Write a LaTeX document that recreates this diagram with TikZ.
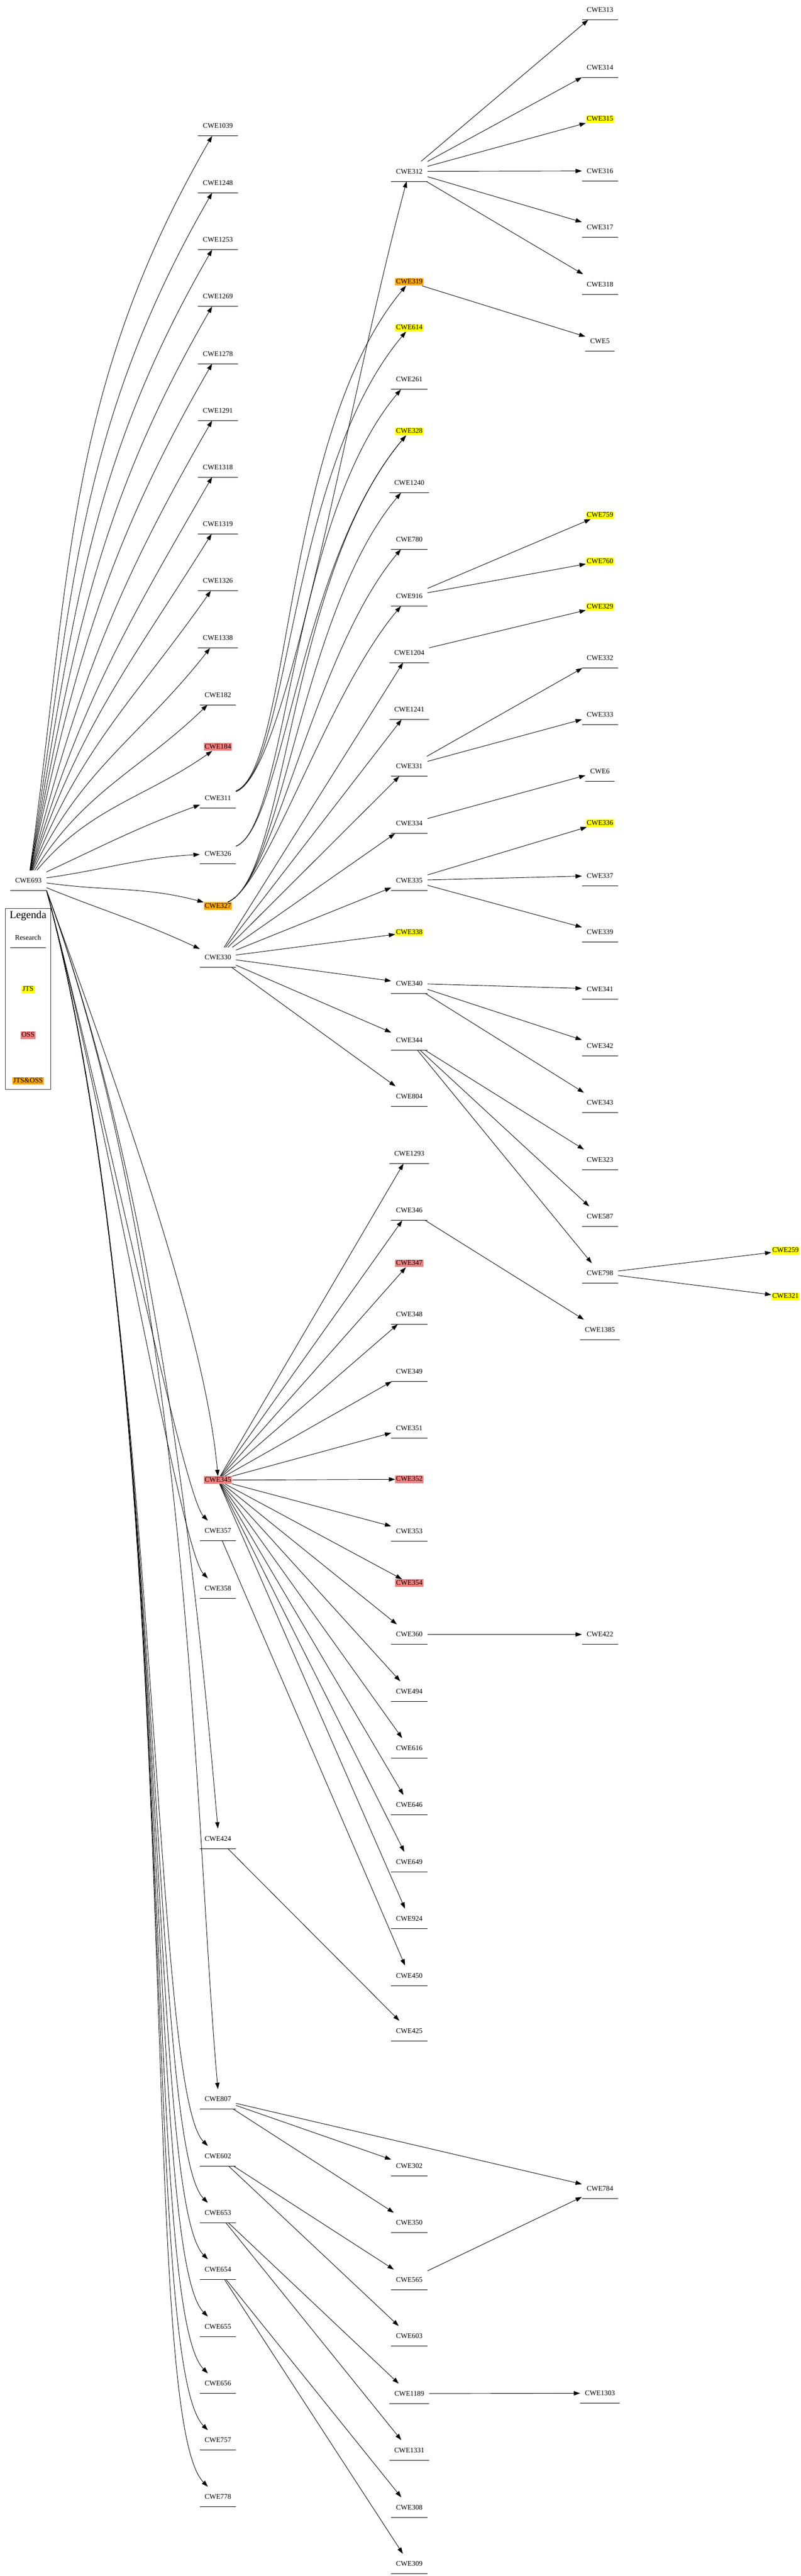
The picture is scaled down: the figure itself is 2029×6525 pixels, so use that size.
\documentclass[tikz,border=0pt]{standalone}
\usepackage{fontspec}
\setmainfont{Liberation Serif}
\usetikzlibrary{arrows.meta}

\definecolor{jtscol}{RGB}{255,255,0}
\definecolor{osscol}{RGB}{240,128,128}
\definecolor{bothcol}{RGB}{255,165,0}

\newcommand{\cwefont}{\fontsize{9}{10}\selectfont}

\tikzset{
  cwe/.style={font=\cwefont, inner xsep=6pt, inner ysep=0pt, minimum height=25pt,
    append after command={(\tikzlastnode.south west) edge[draw=black, line width=0.6pt] (\tikzlastnode.south east)}},
  hlbox/.style={font=\cwefont, inner xsep=1pt, inner ysep=0.6pt, text height=6.4pt, text depth=2pt}
}

\begin{document}
\begin{tikzpicture}[x=0.5pt, y=0.5pt]
\useasboundingbox (0,0) rectangle (2029,-6525);

% legend box
\draw[line width=0.7pt, black!80] (14,-2301) rectangle (129,-2759);
\node[font=\fontsize{13.5}{15}\selectfont] (legtitle) at (71,-2320) {Legenda};

\begin{scope}[every node/.style={cwe}]
    \node (research) at (71,-2375) {Research};
    \node (cwe693) at (72,-2230) {CWE693};
    % second column
    \node (cwe1039) at (552,-319) {CWE1039};
    \node (cwe1248) at (552,-463) {CWE1248};
    \node (cwe1253) at (552,-607) {CWE1253};
    \node (cwe1269) at (552,-751) {CWE1269};
    \node (cwe1278) at (552,-896) {CWE1278};
    \node (cwe1291) at (552,-1040) {CWE1291};
    \node (cwe1318) at (552,-1183) {CWE1318};
    \node (cwe1319) at (552,-1327) {CWE1319};
    \node (cwe1326) at (552,-1471) {CWE1326};
    \node (cwe1338) at (552,-1616) {CWE1338};
    \node (cwe182) at (552,-1760) {CWE182};
    \node (cwe311) at (552,-2022) {CWE311};
    \node (cwe326) at (552,-2162) {CWE326};
    \node (cwe330) at (552,-2425) {CWE330};
    \node (cwe357) at (552,-3877) {CWE357};
    \node (cwe358) at (552,-4023) {CWE358};
    \node (cwe424) at (552,-4657) {CWE424};
    \node (cwe807) at (552,-5317) {CWE807};
    \node (cwe602) at (552,-5461) {CWE602};
    \node (cwe653) at (552,-5605) {CWE653};
    \node (cwe654) at (552,-5748) {CWE654};
    \node (cwe655) at (552,-5893) {CWE655};
    \node (cwe656) at (552,-6037) {CWE656};
    \node (cwe757) at (552,-6181) {CWE757};
    \node (cwe778) at (552,-6324) {CWE778};
    % third column
    \node (cwe312) at (1037,-434) {CWE312};
    \node (cwe261) at (1037,-961) {CWE261};
    \node (cwe1240) at (1037,-1223) {CWE1240};
    \node (cwe780) at (1037,-1366) {CWE780};
    \node (cwe916) at (1037,-1510) {CWE916};
    \node (cwe1204) at (1037,-1653) {CWE1204};
    \node (cwe1241) at (1037,-1797) {CWE1241};
    \node (cwe331) at (1037,-1941) {CWE331};
    \node (cwe334) at (1037,-2086) {CWE334};
    \node (cwe335) at (1037,-2230) {CWE335};
    \node (cwe340) at (1037,-2491) {CWE340};
    \node (cwe344) at (1037,-2635) {CWE344};
    \node (cwe804) at (1037,-2777) {CWE804};
    \node (cwe1293) at (1037,-2922) {CWE1293};
    \node (cwe346) at (1037,-3066) {CWE346};
    \node (cwe348) at (1037,-3329) {CWE348};
    \node (cwe349) at (1037,-3474) {CWE349};
    \node (cwe351) at (1037,-3617) {CWE351};
    \node (cwe353) at (1037,-3878) {CWE353};
    \node (cwe360) at (1037,-4140) {CWE360};
    \node (cwe494) at (1037,-4284) {CWE494};
    \node (cwe616) at (1037,-4428) {CWE616};
    \node (cwe646) at (1037,-4572) {CWE646};
    \node (cwe649) at (1037,-4716) {CWE649};
    \node (cwe924) at (1037,-4860) {CWE924};
    \node (cwe450) at (1037,-5004) {CWE450};
    \node (cwe425) at (1037,-5144) {CWE425};
    \node (cwe302) at (1037,-5486) {CWE302};
    \node (cwe350) at (1037,-5630) {CWE350};
    \node (cwe565) at (1037,-5774) {CWE565};
    \node (cwe603) at (1037,-5917) {CWE603};
    \node (cwe1189) at (1037,-6063) {CWE1189};
    \node (cwe1331) at (1037,-6206) {CWE1331};
    \node (cwe308) at (1037,-6351) {CWE308};
    \node (cwe309) at (1037,-6494) {CWE309};
    % fourth column
    \node (cwe313) at (1520,-25) {CWE313};
    \node (cwe314) at (1520,-171) {CWE314};
    \node (cwe316) at (1520,-433) {CWE316};
    \node (cwe317) at (1520,-576) {CWE317};
    \node (cwe318) at (1520,-720) {CWE318};
    \node (cwe5) at (1520,-864) {CWE5};
    \node (cwe332) at (1520,-1667) {CWE332};
    \node (cwe333) at (1520,-1810) {CWE333};
    \node (cwe6) at (1520,-1954) {CWE6};
    \node (cwe337) at (1520,-2218) {CWE337};
    \node (cwe339) at (1520,-2361) {CWE339};
    \node (cwe341) at (1520,-2505) {CWE341};
    \node (cwe342) at (1520,-2649) {CWE342};
    \node (cwe343) at (1520,-2793) {CWE343};
    \node (cwe323) at (1520,-2937) {CWE323};
    \node (cwe587) at (1520,-3081) {CWE587};
    \node (cwe798) at (1520,-3225) {CWE798};
    \node (cwe1385) at (1520,-3368) {CWE1385};
    \node (cwe422) at (1520,-4140) {CWE422};
    \node (cwe784) at (1520,-5543) {CWE784};
    \node (cwe1303) at (1520,-6062) {CWE1303};
\end{scope}

\begin{scope}[every node/.style={hlbox}]
    \node[fill=jtscol] (legjts) at (71,-2506) {JTS};
    \node[fill=osscol] (legoss) at (71,-2622) {OSS};
    \node[fill=bothcol] (legboth) at (71,-2738) {JTS\&OSS};
    \node[fill=osscol] (cwe184) at (552,-1892) {CWE184};
    \node[fill=bothcol] (cwe327) at (552,-2295) {CWE327};
    \node[fill=osscol] (cwe345) at (552,-3749) {CWE345};
    \node[fill=bothcol] (cwe319) at (1037,-714) {CWE319};
    \node[fill=jtscol] (cwe614) at (1037,-830) {CWE614};
    \node[fill=jtscol] (cwe328) at (1037,-1093) {CWE328};
    \node[fill=jtscol] (cwe338) at (1037,-2362) {CWE338};
    \node[fill=osscol] (cwe347) at (1037,-3200) {CWE347};
    \node[fill=osscol] (cwe352) at (1037,-3747) {CWE352};
    \node[fill=osscol] (cwe354) at (1037,-4010) {CWE354};
    \node[fill=jtscol] (cwe315) at (1520,-302) {CWE315};
    \node[fill=jtscol] (cwe759) at (1520,-1305) {CWE759};
    \node[fill=jtscol] (cwe760) at (1520,-1422) {CWE760};
    \node[fill=jtscol] (cwe329) at (1520,-1537) {CWE329};
    \node[fill=jtscol] (cwe336) at (1520,-2085) {CWE336};
    \node[fill=jtscol] (cwe259) at (1990,-3168) {CWE259};
    \node[fill=jtscol] (cwe321) at (1990,-3284) {CWE321};
\end{scope}

\begin{scope}[>={Triangle[length=8pt,width=5.5pt]}, line width=0.6pt,
              every edge/.style={draw=black}]
    \path [->] (cwe693) edge[out=82, in=240] (cwe1039);
    \path [->] (cwe693) edge[out=81, in=240] (cwe1248);
    \path [->] (cwe693) edge[out=80, in=240] (cwe1253);
    \path [->] (cwe693) edge[out=79, in=240] (cwe1269);
    \path [->] (cwe693) edge[out=78, in=240] (cwe1278);
    \path [->] (cwe693) edge[out=76, in=240] (cwe1291);
    \path [->] (cwe693) edge[out=74, in=240] (cwe1318);
    \path [->] (cwe693) edge[out=72, in=238] (cwe1319);
    \path [->] (cwe693) edge[out=69, in=235] (cwe1326);
    \path [->] (cwe693) edge[out=65, in=232] (cwe1338);
    \path [->] (cwe693) edge[out=58, in=224] (cwe182);
    \path [->] (cwe693) edge[out=50, in=215] (cwe184);
    \path [->] (cwe693) edge[out=25, in=200] (cwe311);
    \path [->] (cwe693) edge[out=8, in=183] (cwe326);
    \path [->] (cwe693) edge[out=-8, in=165] (cwe327);
    \path [->] (cwe693) edge[out=-22, in=155] (cwe330);
    % root to the lower half
    \draw [->] (cwe693.south east) .. controls +(-70:270pt) and +(95:182pt) .. (cwe345.north);
    \draw [->] (cwe693.south east) .. controls +(-70:423pt) and +(95:284pt) .. (cwe424.north);
    \draw [->] (cwe693.south east) .. controls +(-70:537pt) and +(95:360pt) .. (cwe807.north);
    \draw [->] (cwe693.south east) .. controls +(-75:288pt) and +(135:62pt) .. (cwe357);
    \draw [->] (cwe693.south east) .. controls +(-75:313pt) and +(135:67pt) .. (cwe358);
    \draw [->] (cwe693.south east) .. controls +(-75:561pt) and +(135:120pt) .. (cwe602);
    \draw [->] (cwe693.south east) .. controls +(-75:586pt) and +(135:126pt) .. (cwe653);
    \draw [->] (cwe693.south east) .. controls +(-75:611pt) and +(135:131pt) .. (cwe654);
    \draw [->] (cwe693.south east) .. controls +(-75:636pt) and +(135:136pt) .. (cwe655);
    \draw [->] (cwe693.south east) .. controls +(-75:661pt) and +(135:142pt) .. (cwe656);
    \draw [->] (cwe693.south east) .. controls +(-75:686pt) and +(135:147pt) .. (cwe757);
    \draw [->] (cwe693.south east) .. controls +(-75:711pt) and +(135:152pt) .. (cwe778);

    \draw [->] (cwe311) .. controls +(20:94pt) and +(255:313pt) .. (cwe312);
    \draw [->] (cwe311) .. controls +(22:100pt) and +(230:250pt) .. (cwe319);
    \draw [->] (cwe311) .. controls +(22:100pt) and +(230:240pt) .. (cwe614);
    \draw [->] (cwe326) .. controls +(22:95pt) and +(230:235pt) .. (cwe261);
    \draw [->] (cwe326) .. controls +(22:90pt) and +(230:220pt) .. (cwe328);
    \draw [->] (cwe327) .. controls +(22:95pt) and +(230:240pt) .. (cwe328);
    \draw [->] (cwe327) .. controls +(22:88pt) and +(230:215pt) .. (cwe1240);
    \draw [->] (cwe327) .. controls +(22:78pt) and +(230:190pt) .. (cwe780);
    \draw [->] (cwe327) .. controls +(22:68pt) and +(230:165pt) .. (cwe916);
    \path [->] (cwe330) edge (cwe1204) edge (cwe1241) edge (cwe331) edge (cwe334) edge (cwe335)
        edge (cwe338) edge (cwe340) edge (cwe344) edge (cwe804);
    \path [->] (cwe345) edge (cwe1293) edge (cwe346) edge (cwe347) edge (cwe348) edge (cwe349)
        edge (cwe351) edge (cwe352) edge (cwe353) edge (cwe354) edge (cwe360) edge (cwe494)
        edge (cwe616) edge (cwe646) edge (cwe649) edge (cwe924);
    \path [->] (cwe357) edge (cwe450);
    \path [->] (cwe424) edge (cwe425);
    \path [->] (cwe807) edge (cwe302) edge (cwe350) edge (cwe784);
    \path [->] (cwe602) edge (cwe565) edge (cwe603);
    \path [->] (cwe653) edge (cwe1189) edge (cwe1331);
    \path [->] (cwe654) edge (cwe308) edge (cwe309);

    \path [->] (cwe312) edge (cwe313) edge (cwe314) edge (cwe315) edge (cwe316) edge (cwe317) edge (cwe318);
    \path [->] (cwe319) edge (cwe5);
    \path [->] (cwe916) edge (cwe759) edge (cwe760);
    \path [->] (cwe1204) edge (cwe329);
    \path [->] (cwe331) edge (cwe332) edge (cwe333);
    \path [->] (cwe334) edge (cwe6);
    \path [->] (cwe335) edge (cwe336) edge (cwe337) edge (cwe339);
    \path [->] (cwe340) edge (cwe341) edge (cwe342) edge (cwe343);
    \path [->] (cwe344) edge (cwe323) edge (cwe587) edge (cwe798);
    \path [->] (cwe346) edge (cwe1385);
    \path [->] (cwe360) edge (cwe422);
    \path [->] (cwe565) edge (cwe784);
    \path [->] (cwe1189) edge (cwe1303);
    \path [->] (cwe798) edge (cwe259) edge (cwe321);
\end{scope}
\end{tikzpicture}
\end{document}
